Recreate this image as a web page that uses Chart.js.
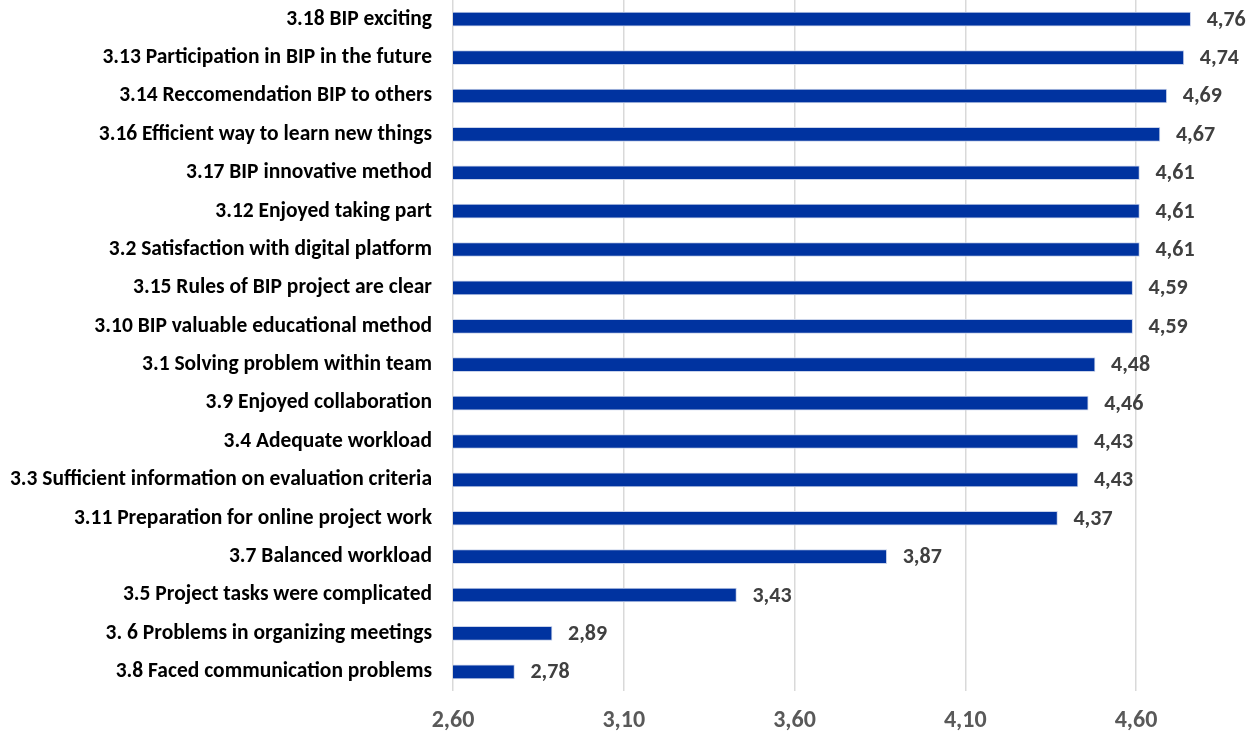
<!DOCTYPE html>
<html>
<head>
<meta charset="utf-8">
<script src="https://cdn.jsdelivr.net/npm/chart.js@4/dist/chart.umd.min.js"></script>
<style>
  html, body { margin: 0; padding: 0; background: #ffffff; overflow: hidden; }
  #wrap { position: relative; width: 1247px; height: 734px; }
</style>
</head>
<body>
<div id="wrap"><canvas id="bars"></canvas></div>
<script>
const items = [
  '3.18 BIP exciting',
  '3.13 Participation in BIP in the future',
  '3.14 Reccomendation BIP to others',
  '3.16 Efficient way to learn new things',
  '3.17 BIP innovative method',
  '3.12 Enjoyed taking part',
  '3.2 Satisfaction with digital platform',
  '3.15 Rules of BIP project are clear',
  '3.10 BIP valuable educational method',
  '3.1 Solving problem within team',
  '3.9 Enjoyed collaboration',
  '3.4 Adequate workload',
  '3.3 Sufficient information on evaluation criteria',
  '3.11 Preparation for online project work',
  '3.7 Balanced workload',
  '3.5 Project tasks were complicated',
  '3. 6 Problems in organizing meetings',
  '3.8 Faced communication problems',
];
const scores = [4.76, 4.74, 4.69, 4.67, 4.61, 4.61, 4.61, 4.59, 4.59, 4.48, 4.46, 4.43, 4.43, 4.37, 3.87, 3.43, 2.89, 2.78];
const axisTicks = [2.6, 3.1, 3.6, 4.1, 4.6];

const FONT = "Carlito, Calibri, 'Liberation Sans', sans-serif";
const fmt = (v) => v.toFixed(2).replace('.', ',');

// value labels to the right of each bar
const valueLabels = {
  id: 'valueLabels',
  afterDatasetsDraw(chart) {
    const { ctx } = chart;
    const meta = chart.getDatasetMeta(0);
    ctx.save();
    ctx.font = `bold 22px ${FONT}`;
    ctx.fillStyle = '#404040';
    ctx.textAlign = 'left';
    ctx.textBaseline = 'middle';
    meta.data.forEach((bar, i) => {
      ctx.fillText(fmt(scores[i]), bar.x + 16, bar.y + 1);
    });
    ctx.restore();
  },
};

new Chart(document.getElementById('bars'), {
  type: 'bar',
  data: {
    labels: items,
    datasets: [{
      data: scores,
      backgroundColor: '#0033a0',
      borderColor: '#c9d3ea',
      borderWidth: 1,
      barThickness: 14,
    }],
  },
  plugins: [valueLabels],
  options: {
    indexAxis: 'y',
    responsive: true,
    maintainAspectRatio: false,
    animation: false,
    layout: { padding: { top: -2, right: 0, left: 0, bottom: 0 } },
    plugins: {
      legend: { display: false },
      tooltip: { enabled: false },
    },
    scales: {
      x: {
        min: 2.6,
        max: 4.925,
        afterBuildTicks: (scale) => {
          scale.ticks = axisTicks.map((v) => ({ value: v }));
        },
        afterFit: (scale) => {
          scale.height = 43;
          scale.paddingLeft = 0;
          scale.paddingRight = 0;
        },
        grid: { color: '#d9d9d9', lineWidth: 1.5, drawTicks: false },
        border: { display: false },
        ticks: {
          padding: 16,
          color: '#595959',
          font: { family: FONT, size: 24, weight: 'bold' },
          callback: (v) => fmt(v),
        },
      },
      y: {
        afterFit: (scale) => {
          scale.width = 453;
          scale.paddingTop = 0;
          scale.paddingBottom = 0;
        },
        grid: { display: false, drawTicks: false },
        border: { display: false },
        ticks: {
          padding: 21,
          color: '#000000',
          font: { family: FONT, size: 21.5, weight: 'bold' },
        },
      },
    },
  },
});
</script>
</body>
</html>
